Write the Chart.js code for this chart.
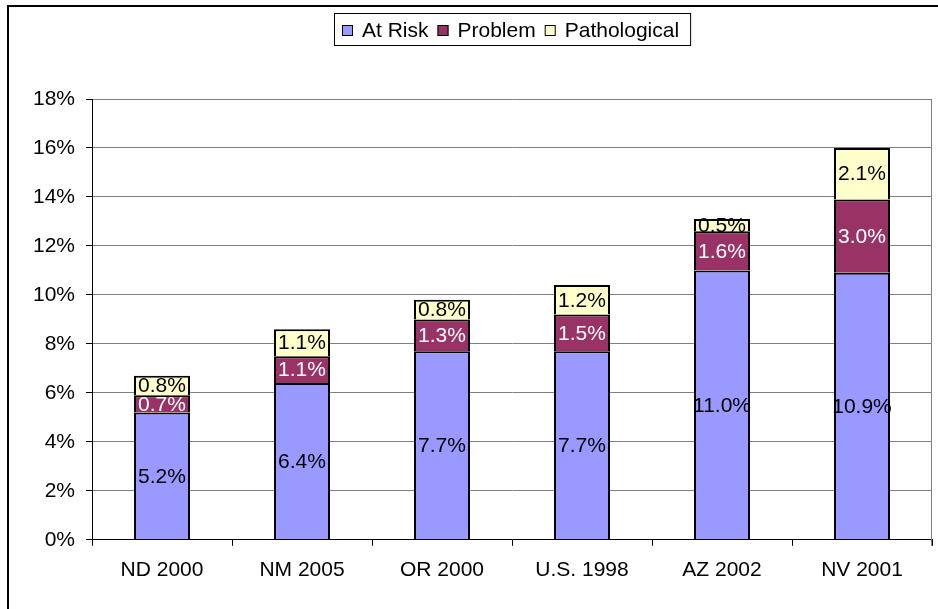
<!DOCTYPE html>
<html>
<head>
<meta charset="utf-8">
<script src="https://cdn.jsdelivr.net/npm/chart.js@4.4.0/dist/chart.umd.min.js"></script>
<style>
  html, body { margin: 0; padding: 0; background: #fff; }
  #wrap { width: 938px; height: 609px; }
</style>
</head>
<body>
<div id="wrap"><canvas id="chart" width="938" height="609"></canvas></div>
<script>
const categories = ['ND 2000', 'NM 2005', 'OR 2000', 'U.S. 1998', 'AZ 2002', 'NV 2001'];
const atRisk = [5.2, 6.4, 7.7, 7.7, 11.0, 10.9];
const problem = [0.7, 1.1, 1.3, 1.5, 1.6, 3.0];
const pathological = [0.8, 1.1, 0.8, 1.2, 0.5, 2.1];
const seriesNames = ['At Risk', 'Problem', 'Pathological'];
const seriesColors = ['#9999FF', '#993366', '#FFFFCC'];
const labelColors = ['#000000', '#FFFFFF', '#000000'];
const yMin = 0, yMax = 18, yStep = 2;

const FONT = "'Liberation Sans', Arial, sans-serif";
const FONT_SIZE = 21;
Chart.defaults.font.family = FONT;
Chart.defaults.font.size = FONT_SIZE;
Chart.defaults.color = '#000';

// frame around the whole chart + right edge of plot area
const framePlugin = {
    id: 'frame',
    beforeDraw(chart) {
        const ctx = chart.ctx;
        ctx.save();
        ctx.fillStyle = '#fff';
        ctx.fillRect(0, 0, chart.width, chart.height);
        ctx.strokeStyle = '#000';
        ctx.lineWidth = 2;
        ctx.beginPath();
        ctx.moveTo(8, chart.height);
        ctx.lineTo(8, 6);
        ctx.lineTo(chart.width, 6);
        ctx.stroke();
        ctx.restore();
    },
    beforeDatasetsDraw(chart) {
        const { ctx, chartArea } = chart;
        ctx.save();
        ctx.strokeStyle = '#808080';
        ctx.lineWidth = 1;
        ctx.beginPath();
        ctx.moveTo(chartArea.right - 0.5, chartArea.top);
        ctx.lineTo(chartArea.right - 0.5, chartArea.bottom + 6);
        ctx.stroke();
        ctx.restore();
    }
};

// value labels in the middle of each segment
const valueLabelPlugin = {
    id: 'valueLabels',
    afterDatasetsDraw(chart) {
        const ctx = chart.ctx;
        ctx.save();
        ctx.font = FONT_SIZE + 'px ' + FONT;
        ctx.textAlign = 'center';
        ctx.textBaseline = 'middle';
        chart.data.datasets.forEach((ds, i) => {
            const meta = chart.getDatasetMeta(i);
            meta.data.forEach((bar, j) => {
                ctx.fillStyle = labelColors[i];
                ctx.fillText(ds.data[j].toFixed(1) + '%', bar.x, (bar.y + bar.base) / 2 + 1);
            });
        });
        ctx.restore();
    }
};

// boxed legend centred over the plot area
const boxLegendPlugin = {
    id: 'boxLegend',
    afterDraw(chart) {
        const { ctx, chartArea } = chart;
        const box = 11, gap = 9, spacing = 9, padL = 8, padR = 11;
        ctx.save();
        ctx.font = FONT_SIZE + 'px ' + FONT;
        const widths = seriesNames.map(n => ctx.measureText(n).width);
        let total = padL + padR + spacing * (seriesNames.length - 1);
        widths.forEach(w => { total += box + gap + w; });
        const left = Math.round((chartArea.left + chartArea.right) / 2 - total / 2);
        const top = 13, height = 32, cy = 30;
        ctx.strokeStyle = '#000';
        ctx.lineWidth = 1;
        ctx.strokeRect(left + 0.5, top + 0.5, total, height);
        let x = left + padL;
        seriesNames.forEach((name, i) => {
            ctx.fillStyle = seriesColors[i];
            ctx.fillRect(x, cy - 5, box, box);
            ctx.strokeRect(x + 0.5, cy - 5 + 0.5, box - 1, box - 1);
            ctx.fillStyle = '#000';
            ctx.textBaseline = 'middle';
            ctx.fillText(name, x + box + gap, cy + 1);
            x += box + gap + widths[i] + spacing;
        });
        ctx.restore();
    }
};

const datasets = [atRisk, problem, pathological].map((values, i) => ({
    label: seriesNames[i],
    data: values,
    backgroundColor: seriesColors[i],
    borderColor: '#000',
    borderWidth: 2,
    categoryPercentage: 1.0,
    barPercentage: 0.4
}));

new Chart(document.getElementById('chart'), {
    type: 'bar',
    data: { labels: categories, datasets: datasets },
    options: {
        responsive: false,
        animation: false,
        layout: { padding: { left: 22, right: 6, top: 99, bottom: 14 } },
        plugins: {
            legend: { display: false },
            tooltip: { enabled: false }
        },
        scales: {
            x: {
                stacked: true,
                grid: { drawOnChartArea: false, drawTicks: true, tickLength: 6, tickColor: '#000' },
                border: { color: '#000', width: 1 },
                ticks: { padding: 12, color: '#000', font: { size: FONT_SIZE } }
            },
            y: {
                stacked: true,
                min: yMin,
                max: yMax,
                grid: { color: '#808080', tickLength: 6, tickColor: '#000' },
                border: { color: '#000', width: 1 },
                ticks: {
                    stepSize: yStep,
                    padding: 11,
                    color: '#000',
                    font: { size: FONT_SIZE },
                    callback: v => v + '%'
                }
            }
        }
    },
    plugins: [framePlugin, valueLabelPlugin, boxLegendPlugin]
});
</script>
</body>
</html>
